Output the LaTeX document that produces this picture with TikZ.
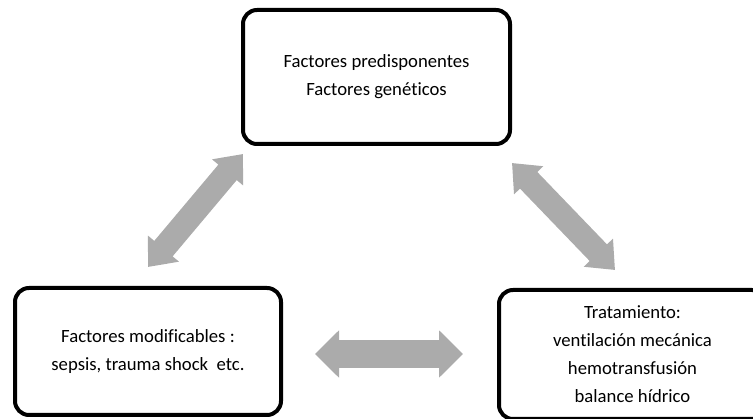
\documentclass[tikz,border=0pt]{standalone}
\usepackage{fontspec}
\setmainfont{Carlito}[Ligatures=NoCommon]
\usepackage{xcolor}
\definecolor{arrowgray}{RGB}{171,171,171}
\usetikzlibrary{arrows.meta,positioning}

\begin{document}
\begin{tikzpicture}[
  x=1pt,
  y=-1pt,
  factor/.style={
    draw,
    line width=4pt,
    rounded corners=14pt,
    align=center,
    font=\fontsize{18.7}{28}\selectfont
  },
  link/.style={
    draw=arrowgray,
    line width=24pt,
    {Triangle[length=24pt,width=39pt]}-{Triangle[length=24pt,width=39pt]},
    arrowgray
  },
  widelink/.style={
    link,
    line width=28pt,
    {Triangle[length=24pt,width=46pt]}-{Triangle[length=24pt,width=46pt]}
  }
]
  \useasboundingbox (0,0) rectangle (753,419);
  \node[factor,minimum width=267pt,minimum height=134pt] (pre) at (376.5,77)
    {Factores predisponentes\\Factores genéticos};
  \node[factor,minimum width=266pt,minimum height=127pt] (mod) at (148,351.5)
    {Factores modificables :\\sepsis, trauma shock\ \ etc.};
  \node[factor,minimum width=267pt,minimum height=129pt] (tra) at (632.5,354.5)
    {Tratamiento:\\ventilación mecánica\\hemotransfusión\\balance hídrico};
  \coordinate (modup) at (148,267);
  \coordinate (prel) at (243,154);
  \coordinate (prer) at (512,163);
  \coordinate (traup) at (615,270);
  \coordinate (modr) at (315,354);
  \coordinate (tral) at (463,354);
  \path[link] (modup) -- (prel);
  \path[link] (prer) -- (traup);
  \path[widelink] (modr) -- (tral);
\end{tikzpicture}
\end{document}
